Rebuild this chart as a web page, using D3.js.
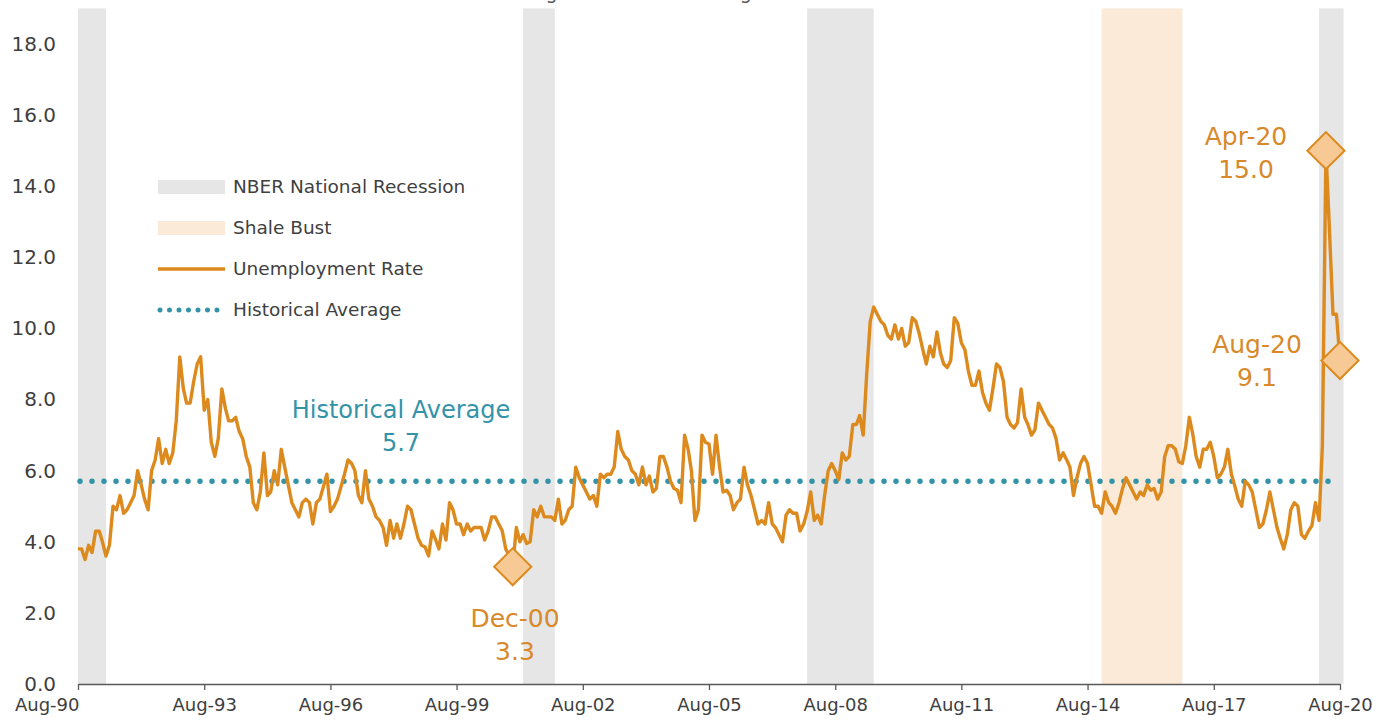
<!DOCTYPE html>
<html>
<head>
<meta charset="utf-8">
<script src="https://cdn.jsdelivr.net/npm/d3@7"></script>
<style>
  html, body { margin: 0; padding: 0; background: #fff; }
  svg { display: block; font-family: "DejaVu Sans", sans-serif; }
</style>
</head>
<body>
<svg id="chart" width="1398" height="725"></svg>
<script>
// Monthly unemployment rate, Aug-1990 through Aug-2020 (percent)
const startMonth = "1990-08";
const unemploymentRate = [
  3.8, 3.8, 3.5, 3.9, 3.7, 4.3, 4.3, 4.0, 3.6, 3.9,
  5.0, 4.9, 5.3, 4.8, 4.9, 5.1, 5.3, 6.0, 5.6, 5.2,
  4.9, 6.0, 6.3, 6.9, 6.2, 6.6, 6.2, 6.5, 7.4, 9.2,
  8.3, 7.9, 7.9, 8.5, 9.0, 9.2, 7.7, 8.0, 6.8, 6.4,
  6.9, 8.3, 7.75, 7.4, 7.4, 7.5, 7.1, 6.9, 6.4, 6.1,
  5.1, 4.9, 5.4, 6.5, 5.3, 5.4, 6.0, 5.6, 6.6, 6.1,
  5.6, 5.1, 4.9, 4.7, 5.1, 5.2, 5.1, 4.5, 5.1, 5.2,
  5.55, 5.9, 4.85, 5.0, 5.2, 5.55, 5.9, 6.3, 6.2, 6.0,
  5.3, 5.1, 6.0, 5.2, 5.0, 4.7, 4.6, 4.4, 3.9, 4.6,
  4.1, 4.5, 4.1, 4.5, 5.0, 4.9, 4.5, 4.1, 3.9, 3.85,
  3.6, 4.3, 4.05, 3.8, 4.5, 4.05, 5.1, 4.9, 4.5, 4.5,
  4.2, 4.5, 4.3, 4.4, 4.4, 4.4, 4.05, 4.3, 4.7, 4.7,
  4.5, 4.3, 3.8, 3.6, 3.3, 4.4, 4.0, 4.2, 3.95, 4.0,
  4.9, 4.7, 5.0, 4.7, 4.7, 4.7, 4.6, 5.2, 4.5, 4.6,
  4.9, 5.0, 6.1, 5.8, 5.6, 5.4, 5.2, 5.3, 5.0, 5.9,
  5.8, 5.9, 5.9, 6.1, 7.1, 6.6, 6.4, 6.3, 6.0, 5.9,
  5.6, 6.1, 5.6, 5.85, 5.4, 5.5, 6.4, 6.4, 6.1, 5.7,
  5.5, 5.45, 5.1, 7.0, 6.6, 6.0, 4.6, 4.9, 7.0, 6.8,
  6.75, 5.9, 7.0, 6.1, 5.4, 5.45, 5.3, 4.9, 5.1, 5.2,
  6.1, 5.6, 5.3, 4.9, 4.5, 4.6, 4.5, 5.1, 4.5, 4.4,
  4.2, 4.0, 4.75, 4.9, 4.8, 4.8, 4.3, 4.5, 4.85, 5.4,
  4.6, 4.75, 4.5, 5.3, 6.0, 6.2, 6.0, 5.75, 6.5, 6.3,
  6.4, 7.3, 7.3, 7.55, 7.0, 8.7, 10.2, 10.6, 10.4, 10.2,
  10.1, 9.8, 9.7, 10.1, 9.7, 10.0, 9.5, 9.6, 10.3, 10.2,
  9.85, 9.4, 9.0, 9.5, 9.2, 9.9, 9.3, 9.0, 8.9, 9.1,
  10.3, 10.15, 9.6, 9.4, 8.8, 8.4, 8.4, 8.8, 8.2, 7.9,
  7.7, 8.3, 9.0, 8.9, 8.5, 7.5, 7.3, 7.2, 7.35, 8.3,
  7.5, 7.3, 7.0, 7.15, 7.9, 7.7, 7.5, 7.3, 7.2, 6.9,
  6.3, 6.5, 6.3, 6.1, 5.3, 5.8, 6.2, 6.4, 6.2, 5.6,
  5.0, 5.0, 4.8, 5.4, 5.1, 5.0, 4.8, 5.1, 5.5, 5.8,
  5.6, 5.4, 5.2, 5.4, 5.3, 5.6, 5.45, 5.5, 5.2, 5.4,
  6.4, 6.7, 6.7, 6.6, 6.25, 6.2, 6.7, 7.5, 7.0, 6.4,
  6.1, 6.6, 6.6, 6.8, 6.4, 5.8, 5.9, 6.1, 6.6, 5.9,
  5.55, 5.2, 5.0, 5.7, 5.6, 5.4, 4.9, 4.4, 4.5, 4.9,
  5.4, 4.9, 4.4, 4.1, 3.8, 4.2, 4.9, 5.1, 5.0, 4.2,
  4.1, 4.3, 4.45, 5.1, 4.6, 6.7, 15.0, 12.8, 10.4, 10.4,
  9.1
];

const historicalAverage = 5.7;

// NBER recession months (first and last month of each contraction)
const recessionStarts = ["1990-07", "2001-03", "2007-12", "2020-02"];
const recessionEnds   = ["1991-03", "2001-11", "2009-06", "2020-08"];

// Shale bust period
const shaleStarts = ["2014-12"];
const shaleEnds   = ["2016-10"];

// Labelled points
const calloutMonths = ["2000-12", "2020-04", "2020-08"];

const yTicks = [0, 2, 4, 6, 8, 10, 12, 14, 16, 18];
const xTickMonths = ["1990-08", "1993-08", "1996-08", "1999-08", "2002-08",
                     "2005-08", "2008-08", "2011-08", "2014-08", "2017-08", "2020-08"];

const legendLabels = ["NBER National Recession", "Shale Bust", "Unemployment Rate", "Historical Average"];

// ---------------------------------------------------------------
const parseMonth = d3.timeParse("%Y-%m");
const fmtMonth = d3.timeFormat("%b-%y");
const t0 = parseMonth(startMonth);
const series = unemploymentRate.map((v, i) => ({ date: d3.timeMonth.offset(t0, i), value: v }));

const orange = "#DC8A1E";
const orangeText = "#D8892A";
const teal = "#3393A8";
const grayBand = "#E6E6E6";
const peachBand = "#FBEAD7";
const axisText = "#3F3F3F";

const svg = d3.select("#chart");

const x = d3.scaleTime()
  .domain([t0, series[series.length - 1].date])
  .range([78, 1340]);

const y = d3.scaleLinear()
  .domain([0, 19])
  .range([684, 8.4]);

// Title sits above the plot area
svg.append("text")
  .attr("x", 354)
  .attr("y", -1)
  .attr("font-size", 19)
  .attr("fill", "#595959")
  .text("Metro Area Rate Surges Far Above Average");

// Shaded periods
function bands(starts, ends, fill) {
  const data = starts.map((s, i) => ({ s: parseMonth(s), e: d3.timeMonth.offset(parseMonth(ends[i]), 1) }));
  svg.append("g").selectAll("rect").data(data).join("rect")
    .attr("x", d => Math.max(x(d.s), x.range()[0]))
    .attr("width", d => x(d.e) - Math.max(x(d.s), x.range()[0]))
    .attr("y", y(19))
    .attr("height", y(0) - y(19))
    .attr("fill", fill);
}
bands(recessionStarts, recessionEnds, grayBand);
bands(shaleStarts, shaleEnds, peachBand);

// Y axis
const yAxis = svg.append("g")
  .attr("transform", `translate(${x.range()[0]},0)`)
  .call(d3.axisLeft(y).tickValues(yTicks).tickFormat(d3.format(".1f")).tickSize(0).tickPadding(22));
yAxis.select(".domain").remove();
yAxis.selectAll("text").attr("font-size", 20).attr("fill", axisText).attr("font-family", "DejaVu Sans");

// X axis
const xAxis = svg.append("g")
  .attr("transform", `translate(0,${y(0)})`)
  .call(d3.axisBottom(x).tickValues(xTickMonths.map(parseMonth)).tickFormat(fmtMonth).tickSize(6).tickSizeOuter(0).tickPadding(8));
xAxis.select(".domain").attr("stroke", "#595959").attr("stroke-width", 1.3);
xAxis.selectAll(".tick line").attr("stroke", "#595959").attr("stroke-width", 1.3);
xAxis.selectAll("text").attr("font-size", 18).attr("fill", axisText).attr("font-family", "DejaVu Sans");
// first label sits flush against the left edge of the plot
xAxis.selectAll(".tick text").filter((d, i) => i === 0).attr("text-anchor", "end").attr("dx", 1);

// Historical average (dotted)
svg.append("line")
  .attr("x1", x.range()[0] + 2).attr("x2", x.range()[1])
  .attr("y1", y(historicalAverage)).attr("y2", y(historicalAverage))
  .attr("stroke", teal).attr("stroke-width", 5.5)
  .attr("stroke-linecap", "round").attr("stroke-dasharray", "0,12");

// Unemployment rate line
svg.append("path")
  .datum(series)
  .attr("fill", "none")
  .attr("stroke", orange)
  .attr("stroke-width", 3.4)
  .attr("stroke-linejoin", "round")
  .attr("d", d3.line().x(d => x(d.date)).y(d => y(d.value)));

// Diamond markers for labelled points
const callouts = calloutMonths.map(m => series.find(d => +d.date === +parseMonth(m)));
svg.append("g").selectAll("path").data(callouts).join("path")
  .attr("transform", d => `translate(${x(d.date)},${y(d.value)}) rotate(45)`)
  .attr("d", d3.symbol(d3.symbolSquare, 690))
  .attr("fill", "#F6C995")
  .attr("stroke", orange)
  .attr("stroke-width", 2);

// Callout labels
const labelSpec = [
  { cx: 515, by: 627 },
  { cx: 1246, by: 145 },
  { cx: 1257, by: 353 }
];
callouts.forEach((d, i) => {
  const t = svg.append("text")
    .attr("text-anchor", "middle")
    .attr("font-size", 25)
    .attr("fill", orangeText);
  t.append("tspan").attr("x", labelSpec[i].cx).attr("y", labelSpec[i].by).text(fmtMonth(d.date));
  t.append("tspan").attr("x", labelSpec[i].cx).attr("dy", 33).text(d3.format(".1f")(d.value));
});

// Historical average label
const avgLabel = svg.append("text")
  .attr("text-anchor", "middle")
  .attr("font-size", 24)
  .attr("fill", teal);
avgLabel.append("tspan").attr("x", 401).attr("y", 418).text("Historical Average");
avgLabel.append("tspan").attr("x", 401).attr("dy", 33).text(d3.format(".1f")(historicalAverage));

// Legend
const legend = svg.append("g").attr("transform", "translate(158,187)");
const rowGap = 41;
legendLabels.forEach((label, i) => {
  const g = legend.append("g").attr("transform", `translate(0,${i * rowGap})`);
  if (i === 0 || i === 1) {
    g.append("rect").attr("x", 0).attr("y", -7).attr("width", 67).attr("height", 14)
      .attr("fill", i === 0 ? grayBand : peachBand);
  } else if (i === 2) {
    g.append("line").attr("x1", 0).attr("x2", 67).attr("y1", 0).attr("y2", 0)
      .attr("stroke", orange).attr("stroke-width", 3.4);
  } else {
    g.append("line").attr("x1", 2).attr("x2", 67).attr("y1", 0).attr("y2", 0)
      .attr("stroke", teal).attr("stroke-width", 5).attr("stroke-linecap", "round")
      .attr("stroke-dasharray", "0,9.5");
  }
  g.append("text").attr("x", 75).attr("y", 0).attr("dy", "0.35em")
    .attr("font-size", 18.5).attr("fill", axisText).text(label);
});
</script>
</body>
</html>
